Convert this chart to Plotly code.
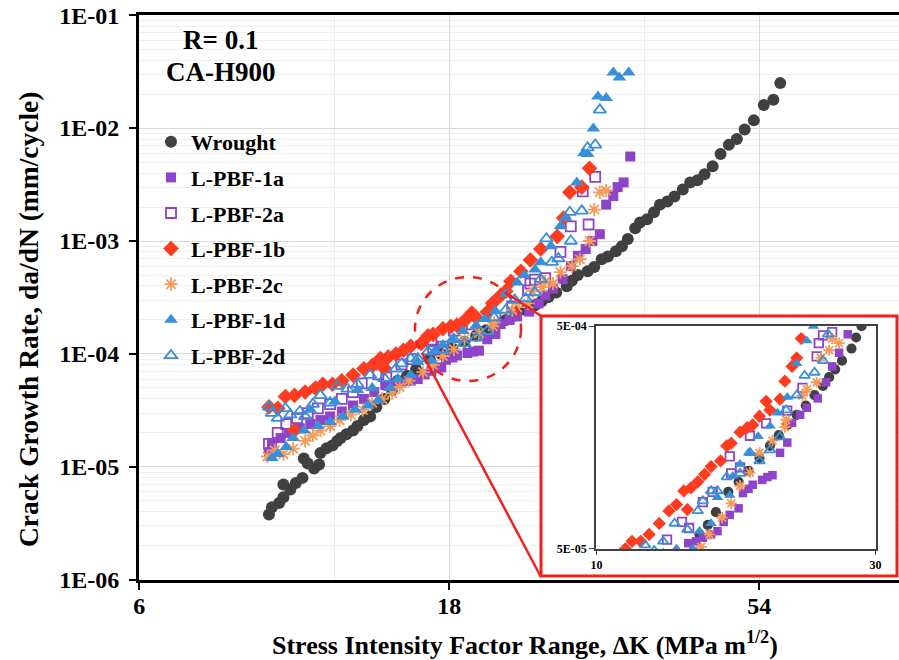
import math
import plotly.graph_objects as go

# ---------------- data ----------------
WROUGHT_X = [9.5, 9.6, 9.85, 10.0, 10.0, 10.25, 10.45, 10.7, 10.75, 10.9, 11.15, 11.35, 11.4, 11.65, 11.9,
             12.1, 12.25, 12.5, 12.8, 13.0, 13.3, 13.6, 13.9, 14.3, 14.7, 15.0, 15.5, 16.0, 16.8, 17.5,
             18.2, 19.0, 19.8, 20.5, 21.2, 22.0, 22.8, 23.6, 24.4, 25.0, 25.6, 26.3, 27.3, 27.8, 28.4,
             29.4, 30.1, 30.9, 31.6, 32.5, 33.2, 33.9, 34.8, 35.4, 36.3, 37.2, 38.0, 39.0, 40.0, 41.2,
             42.3, 43.4, 44.5, 45.8, 47.1, 48.5, 49.9, 51.3, 53.0, 54.9, 56.8, 58.2]
WROUGHT_Y = [3.8e-6, 4.4e-6, 4.8e-6, 5.4e-6, 7.0e-6, 6.3e-6, 7.2e-6, 8.0e-6, 1.19e-5, 1.07e-5, 9.7e-6, 1.05e-5,
             1.33e-5, 1.46e-5, 1.55e-5, 1.7e-5, 1.8e-5, 1.95e-5, 2.1e-5, 2.3e-5, 2.6e-5, 2.8e-5, 3.4e-5,
             4.0e-5, 4.8e-5, 5.8e-5, 6.4e-5, 7.3e-5, 9.0e-5, 1.0e-4, 1.12e-4, 1.28e-4, 1.45e-4, 1.62e-4,
             1.8e-4, 2.0e-4, 2.2e-4, 2.45e-4, 2.7e-4, 2.95e-4, 3.2e-4, 3.5e-4, 3.97e-4, 4.45e-4, 5.0e-4,
             5.4e-4, 5.9e-4, 6.9e-4, 7.3e-4, 8.1e-4, 9.0e-4, 1.04e-3, 1.30e-3, 1.46e-3, 1.56e-3, 1.80e-3,
             2.1e-3, 2.24e-3, 2.48e-3, 2.86e-3, 3.3e-3, 3.45e-3, 3.9e-3, 4.6e-3, 5.9e-3, 7.1e-3, 8.0e-3,
             9.7e-3, 1.17e-2, 1.6e-2, 1.78e-2, 2.5e-2]

PBF1A_X = [9.5, 9.6, 9.9, 10.2, 10.6, 11.0, 11.4, 11.8, 12.3, 12.8, 13.3, 13.8, 14.35, 14.8, 15.2, 15.7, 16.1,
           16.5, 16.9, 17.5, 17.8, 18.2, 18.5, 19.2, 19.6, 20.0, 20.6, 21.2, 21.6, 22.3, 22.9, 23.9, 24.7,
           25.3, 26.0, 26.9, 27.7, 28.4, 29.2, 29.9, 30.7, 31.4, 32.2, 32.7, 33.4, 34.2]
PBF1A_Y = [1.35e-5, 1.6e-5, 1.8e-5, 2.0e-5, 2.2e-5, 2.4e-5, 2.6e-5, 2.8e-5, 3.1e-5, 3.5e-5, 4.0e-5, 4.6e-5,
           5.3e-5, 5.4e-5, 5.6e-5, 5.8e-5, 6.0e-5, 6.6e-5, 7.1e-5, 7.6e-5, 8.9e-5, 9.3e-5, 9.7e-5, 1.02e-4,
           1.05e-4, 1.07e-4, 1.35e-4, 1.5e-4, 1.84e-4, 2.0e-4, 2.15e-4, 2.37e-4, 2.8e-4, 3.3e-4, 3.8e-4,
           4.6e-4, 6.0e-4, 7.4e-4, 8.5e-4, 1.0e-3, 1.15e-3, 2.1e-3, 2.5e-3, 3.0e-3, 3.3e-3, 5.6e-3]

PBF2A_X = [9.5, 9.8, 10.1, 10.5, 10.9, 11.3, 11.8, 12.3, 12.8, 13.2, 14.0, 14.4, 15.2, 15.8, 16.9, 17.0, 17.6,
           18.3, 19.5, 21.2, 22.5, 23.8, 24.0, 24.4, 25.3, 26.7, 27.7, 28.9, 29.5, 30.2]
PBF2A_Y = [1.6e-5, 2.0e-5, 2.4e-5, 2.7e-5, 3.0e-5, 3.3e-5, 3.6e-5, 4.0e-5, 4.6e-5, 5.5e-5, 6.6e-5, 6.2e-5,
           8.1e-5, 9.0e-5, 1.3e-4, 1.09e-4, 1.16e-4, 1.61e-4, 1.83e-4, 2.09e-4, 2.64e-4, 3.66e-4, 4.2e-4,
           4.55e-4, 4.7e-4, 8.0e-4, 1.35e-3, 2.75e-3, 1.4e-3, 3.7e-3]

PBF1B_X = [9.5, 9.8, 10.07, 10.4, 10.4, 10.8, 11.2, 11.5, 11.9, 12.3, 12.8, 13.3, 13.7, 14.1, 14.3, 14.5, 14.9,
           15.3, 15.7, 16.3, 16.7, 17.0, 17.6, 18.1, 18.5, 19.0, 19.5, 19.8, 20.6, 21.0, 21.6, 22.0, 22.4,
           23.2, 24.0, 24.9, 26.4, 27.0, 27.6, 28.8, 29.6]
PBF1B_Y = [3.4e-5, 3.3e-5, 4.2e-5, 2.1e-5, 4.3e-5, 4.6e-5, 5.0e-5, 5.4e-5, 5.4e-5, 5.8e-5, 6.5e-5, 7.4e-5,
           7.9e-5, 9.1e-5, 7.5e-5, 9.4e-5, 1.0e-4, 1.08e-4, 1.17e-4, 1.24e-4, 1.45e-4, 1.49e-4, 1.67e-4,
           1.75e-4, 1.8e-4, 1.97e-4, 2.3e-4, 2.1e-4, 2.35e-4, 2.83e-4, 3.3e-4, 3.6e-4, 4.4e-4, 5.4e-4,
           6.8e-4, 8.5e-4, 1.1e-3, 1.6e-3, 2.7e-3, 3.0e-3, 4.4e-3]

PBF2C_X = [9.45, 9.7, 10.0, 10.35, 10.8, 11.1, 11.4, 11.8, 12.2, 12.7, 13.25, 13.7, 14.2, 14.7, 15.1, 15.6,
           16.4, 17.0, 17.6, 18.3, 19.0, 20.0, 21.0, 21.1, 22.5, 22.9, 23.8, 24.2, 25.0, 25.3, 26.0, 26.7,
           27.8, 28.6, 29.6, 30.1, 30.7, 31.4]
PBF2C_Y = [1.24e-5, 1.4e-5, 1.3e-5, 1.45e-5, 1.7e-5, 1.9e-5, 2.1e-5, 2.3e-5, 2.6e-5, 2.9e-5, 3.2e-5, 3.7e-5,
           4.0e-5, 4.5e-5, 5.1e-5, 5.8e-5, 6.9e-5, 8.0e-5, 9.6e-5, 1.1e-4, 1.35e-4, 1.53e-4, 1.76e-4,
           1.9e-4, 2.44e-4, 2.6e-4, 2.8e-4, 3.6e-4, 3.9e-4, 4.4e-4, 4.2e-4, 5.3e-4, 6.0e-4, 6.9e-4,
           1.0e-3, 1.9e-3, 2.7e-3, 2.8e-3]

PBF1D_X = [9.6, 9.8, 10.1, 10.35, 10.75, 11.0, 11.3, 11.8, 12.0, 12.35, 12.9, 13.0, 13.5, 13.7, 14.0, 14.6,
           15.0, 15.7, 16.1, 16.9, 17.1, 17.6, 18.2, 18.9, 19.8, 20.4, 21.2, 22.0, 22.9, 23.5, 24.4, 24.9,
           25.8, 26.7, 27.2, 28.3, 29.0, 29.4, 30.0, 30.5, 31.4, 32.2, 32.9, 34.0]
PBF1D_Y = [1.2e-5, 1.3e-5, 1.5e-5, 1.8e-5, 2.1e-5, 3.2e-5, 2.3e-5, 2.5e-5, 3.8e-5, 2.8e-5, 3.2e-5, 4.8e-5,
           3.5e-5, 5.0e-5, 3.9e-5, 5.0e-5, 6.0e-5, 6.5e-5, 8.5e-5, 8.7e-5, 1.06e-4, 1.2e-4, 1.35e-4,
           1.6e-4, 1.78e-4, 2.04e-4, 2.4e-4, 3.4e-4, 4.3e-4, 5.0e-4, 5.6e-4, 6.5e-4, 9.0e-4, 1.35e-3,
           1.6e-3, 3.3e-3, 6.0e-3, 5.9e-3, 9.9e-3, 1.9e-2, 1.85e-2, 3.1e-2, 2.8e-2, 3.1e-2]

PBF2D_X = [9.5, 9.6, 9.8, 10.07, 10.25, 10.6, 10.8, 11.1, 11.4, 11.8, 12.1, 12.55, 13.0, 13.6, 14.3, 14.9,
           15.2, 15.7, 16.1, 16.7, 17.6, 18.3, 19.0, 19.8, 20.6, 21.1, 22.0, 22.7, 23.6, 24.4, 24.9, 25.4,
           25.9, 26.5, 27.6, 27.7, 28.8, 29.4, 30.2, 30.7]
PBF2D_Y = [3.4e-5, 3.0e-5, 2.7e-5, 3.3e-5, 2.9e-5, 3.1e-5, 2.8e-5, 3.6e-5, 4.3e-5, 3.7e-5, 5.2e-5, 4.9e-5,
           5.4e-5, 6.5e-5, 6.1e-5, 7.4e-5, 8.2e-5, 9.1e-5, 9.1e-5, 1.05e-4, 1.09e-4, 1.35e-4, 1.24e-4,
           1.39e-4, 1.59e-4, 2.1e-4, 2.45e-4, 3.0e-4, 3.1e-4, 3.5e-4, 4.6e-4, 1.05e-3, 6.5e-4, 7.0e-4,
           1.8e-3, 1.0e-3, 1.85e-3, 6.7e-3, 7.1e-3, 1.45e-2]

SERIES_NAMES = ["Wrought", "L-PBF-1a", "L-PBF-2a", "L-PBF-1b", "L-PBF-2c", "L-PBF-1d", "L-PBF-2d"]

X_TICKS = [6, 18, 54]
X_TICK_TEXT = ["6", "18", "54"]
Y_TICKS = [1e-6, 1e-5, 1e-4, 1e-3, 1e-2, 1e-1]
Y_TICK_TEXT = ["1E-06", "1E-05", "1E-04", "1E-03", "1E-02", "1E-01"]
INSET_X_TICKS = [10, 30]
INSET_X_TEXT = ["10", "30"]
INSET_Y_TICKS = [5e-5, 5e-4]
INSET_Y_TEXT = ["5E-05", "5E-04"]

X_TITLE = "Stress Intensity Factor Range, ΔK (MPa m<sup>1/2</sup>)"
Y_TITLE = "Crack Growth Rate, da/dN (mm/cycle)"

# ---------------- styles ----------------
FONT = "Liberation Serif"
RED = "#F0201C"
STYLES = [
    dict(symbol="circle", color="#404040", size=12, open=False),
    dict(symbol="square", color="#8E44C8", size=10, open=False),
    dict(symbol="square-open", color="#8E44C8", size=10, open=True),
    dict(symbol="diamond", color="#FF3B1F", size=12, open=False),
    dict(symbol="asterisk-open", color="#F59A58", size=11, open=True),
    dict(symbol="triangle-up", color="#3A8FD9", size=12, open=False),
    dict(symbol="triangle-up-open", color="#3A8FD9", size=11, open=True),
]
DATA = [(WROUGHT_X, WROUGHT_Y), (PBF1A_X, PBF1A_Y), (PBF2A_X, PBF2A_Y), (PBF1B_X, PBF1B_Y),
        (PBF2C_X, PBF2C_Y), (PBF1D_X, PBF1D_Y), (PBF2D_X, PBF2D_Y)]


def marker_for(st, scale=1.0):
    m = dict(symbol=st["symbol"], size=st["size"] * scale, color=st["color"])
    if st["open"]:
        m["line"] = dict(color=st["color"], width=1.8)
    else:
        m["line"] = dict(width=0)
    return m


fig = go.Figure()

# main plot
for name, (xs, ys), st in zip(SERIES_NAMES, DATA, STYLES):
    fig.add_trace(go.Scatter(x=xs, y=ys, mode="markers", name=name, legendgroup=name,
                             marker=marker_for(st), xaxis="x", yaxis="y"))

# white backing panel for the inset (own subplot so it covers the main plot)
fig.add_trace(go.Scatter(x=[None], y=[None], mode="markers", xaxis="x2", yaxis="y2",
                         showlegend=False, hoverinfo="skip"))

# inset: same data zoomed in
for name, (xs, ys), st in zip(SERIES_NAMES, DATA, STYLES):
    fig.add_trace(go.Scatter(x=xs, y=ys, mode="markers", name=name, showlegend=False,
                             marker=marker_for(st, 0.85), xaxis="x3", yaxis="y3"))

# ---------------- layout ----------------
W, H = 899, 660
L, R, T, B = 139, 0, 15, 80
PW, PH = W - L - R, H - T - B


def px(xp):
    return (xp - L) / PW


def py(yp):
    return (H - B - yp) / PH


y_minor = [k * 10 ** e for e in range(-6, -1) for k in range(2, 10)]
tickfont = dict(family=FONT, size=24, color="black", weight="bold")
insetfont = dict(family=FONT, size=12, color="black", weight="bold")

fig.update_layout(
    width=W, height=H,
    margin=dict(l=L, r=R, t=T, b=B, autoexpand=False),
    paper_bgcolor="white", plot_bgcolor="white",
    font=dict(family=FONT, color="black"),
    showlegend=True,
    legend=dict(x=px(151), y=py(121), xanchor="left", yanchor="top",
                font=dict(family=FONT, size=22, color="black", weight="bold"),
                bgcolor="rgba(0,0,0,0)", borderwidth=0, tracegroupgap=4),
    xaxis=dict(type="log", range=[math.log10(6) - 0.0005, math.log10(6) + PW / 649.8],
               tickmode="array", tickvals=X_TICKS, ticktext=X_TICK_TEXT, automargin=False,
               showline=True, linecolor="black", linewidth=3, mirror=True,
               ticks="outside", ticklen=7, tickwidth=2, tickcolor="black", ticklabelstandoff=-5,
               showgrid=True, gridcolor="#d9d9d9", gridwidth=1, zeroline=False,
               minor=dict(tickmode="array", tickvals=[12, 36], showgrid=True, gridcolor="#ececec", ticks=""),
               tickfont=tickfont),
    yaxis=dict(type="log", range=[-6.001, -0.999],
               tickmode="array", tickvals=Y_TICKS, ticktext=Y_TICK_TEXT, automargin=False,
               showline=True, linecolor="black", linewidth=3, mirror=False,
               ticks="outside", ticklen=7, tickwidth=2, tickcolor="black", ticklabelstandoff=5,
               showgrid=True, gridcolor="#d9d9d9", gridwidth=1, zeroline=False,
               minor=dict(tickmode="array", tickvals=y_minor, showgrid=True, gridcolor="#efefef", ticks=""),
               tickfont=tickfont),
    xaxis2=dict(domain=[px(541), px(898)], anchor="y2", range=[0, 1], showline=False, showgrid=False,
                zeroline=False, showticklabels=False, ticks="", automargin=False),
    yaxis2=dict(domain=[py(576), py(316)], anchor="x2", range=[0, 1], showline=False, showgrid=False,
                zeroline=False, showticklabels=False, ticks="", automargin=False),
    xaxis3=dict(type="log", domain=[px(596), px(876)], anchor="y3",
                range=[1 - 0.001, math.log10(30) + 0.001], automargin=False,
                tickmode="array", tickvals=INSET_X_TICKS, ticktext=INSET_X_TEXT,
                showline=True, linecolor="#404040", linewidth=1.5, mirror=True,
                ticks="outside", ticklen=4, tickwidth=1, tickcolor="#404040",
                showgrid=False, zeroline=False, tickfont=insetfont),
    yaxis3=dict(type="log", domain=[py(549), py(326)], anchor="x3",
                range=[math.log10(5e-5) - 0.001, math.log10(5e-4) + 0.001], automargin=False,
                tickmode="array", tickvals=INSET_Y_TICKS, ticktext=INSET_Y_TEXT,
                showline=True, linecolor="#404040", linewidth=1.5, mirror=True,
                ticks="outside", ticklen=5, tickwidth=1, tickcolor="#404040",
                showgrid=False, zeroline=False, tickfont=insetfont),
    annotations=[
        dict(text="R= 0.1", xref="paper", yref="paper", x=px(220), y=py(40), showarrow=False,
             xanchor="center", yanchor="middle", font=dict(family=FONT, size=27, color="black", weight="bold")),
        dict(text="CA-H900", xref="paper", yref="paper", x=px(221), y=py(72), showarrow=False,
             xanchor="center", yanchor="middle", font=dict(family=FONT, size=27, color="black", weight="bold")),
        dict(text=X_TITLE, xref="paper", yref="paper", x=px(525), y=py(643), showarrow=False,
             xanchor="center", yanchor="middle", font=dict(family=FONT, size=26, color="black", weight="bold")),
        dict(text=Y_TITLE, xref="paper", yref="paper", x=px(28), y=py(320), showarrow=False, textangle=-90,
             xanchor="center", yanchor="middle", font=dict(family=FONT, size=27.5, color="black", weight="bold")),
    ],
    shapes=[
        dict(type="rect", xref="paper", yref="paper", x0=px(541), x1=px(897), y0=py(576), y1=py(316),
             line=dict(color=RED, width=3), fillcolor="rgba(0,0,0,0)", layer="above"),
        dict(type="circle", xref="paper", yref="paper", xsizemode="pixel", ysizemode="pixel",
             xanchor=px(468), yanchor=py(329), x0=-53, x1=53, y0=-52, y1=52,
             line=dict(color=RED, width=2.5, dash="dash"), layer="above"),
        dict(type="line", xref="paper", yref="paper", x0=px(505), y0=py(292), x1=px(541), y1=py(316),
             line=dict(color=RED, width=2.5), layer="above"),
        dict(type="line", xref="paper", yref="paper", x0=px(422), y0=py(353), x1=px(541), y1=py(577),
             line=dict(color=RED, width=2.5), layer="above"),
    ],
)

fig.write_html("out.html", config={"displayModeBar": False},
               post_script="document.body.style.margin='0px';document.body.style.overflow='hidden';")
